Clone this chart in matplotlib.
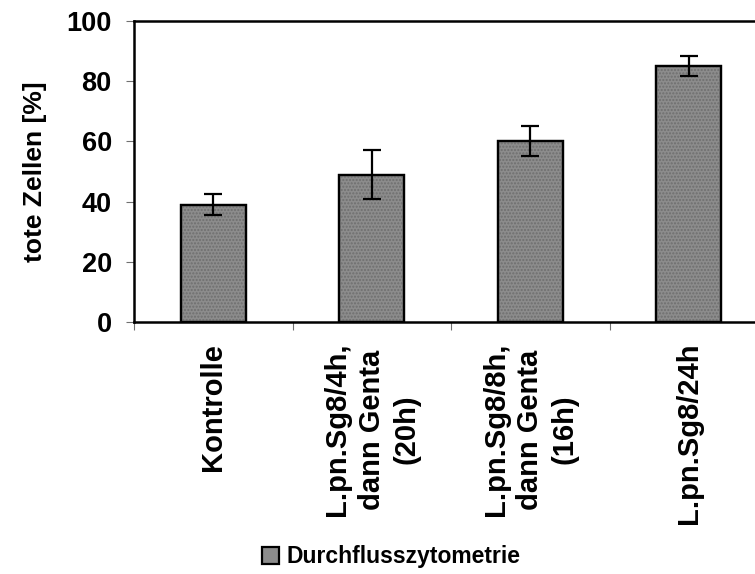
import numpy as np
import matplotlib.pyplot as plt

plt.rcParams['font.family'] = ['Liberation Sans', 'DejaVu Sans']
plt.rcParams['font.weight'] = 'bold'
plt.rcParams['axes.labelweight'] = 'bold'

# Data
categories = ['Kontrolle',
              'L.pn.Sg8/4h,\ndann Genta\n(20h)',
              'L.pn.Sg8/8h,\ndann Genta\n(16h)',
              'L.pn.Sg8/24h']
dead_cells = [39, 49, 60, 85]
dead_cells_err = [3.5, 8.2, 5.0, 3.3]
series_name = 'Durchflusszytometrie'

fig = plt.figure(figsize=(7.55, 5.74), dpi=100)
# axes runs slightly past the right border of the figure
ax = fig.add_axes([134 / 755, 1 - 322 / 574, 634 / 755, 301 / 574])

x = np.arange(len(categories))
bars = ax.bar(x, dead_cells, width=0.41, color='#8c8c8c', edgecolor='black',
              linewidth=1.6, label=series_name, zorder=2)
# fine dotted texture on top of the grey fill
ax.bar(x, dead_cells, width=0.41, color='none', edgecolor='#6e6e6e',
       linewidth=0, hatch='.....', zorder=2.5)
ax.bar(x, dead_cells, width=0.41, color='none', edgecolor='black',
       linewidth=1.6, zorder=3)
ax.errorbar(x, dead_cells, yerr=dead_cells_err, fmt='none', ecolor='black',
            elinewidth=1.6, capsize=6.5, capthick=1.6, zorder=4)

ax.set_xlim(-0.5, len(categories) - 0.5)
ax.set_ylim(0, 100)
ax.set_yticks(np.arange(0, 101, 20))
ax.tick_params(axis='y', length=6, width=0.8, color='#707070', pad=10,
               labelsize=19.5)

ax.set_xticks(x)
ax.set_xticklabels(categories, rotation=90, fontsize=21, linespacing=1.3,
                   ha='center', va='top', multialignment='center')
ax.set_xticks(np.arange(-0.5, len(categories), 1), minor=True)
ax.tick_params(axis='x', which='major', length=0, pad=15)
ax.tick_params(axis='x', which='minor', length=6, width=0.8, color='#707070')

for side in ['left', 'top', 'bottom']:
    ax.spines[side].set_linewidth(1.8)
ax.spines['right'].set_visible(False)

ax.set_ylabel('tote Zellen [%]', fontsize=19)
ax.yaxis.set_label_coords(-0.138, 0.5)

fig.legend(handles=[bars], labels=[series_name], loc='center',
           bbox_to_anchor=(391 / 755, 1 - 557 / 574), frameon=False,
           fontsize=16.5, handlelength=0.75, handleheight=0.75,
           handletextpad=0.3)

fig.savefig('out.png', dpi=100)
